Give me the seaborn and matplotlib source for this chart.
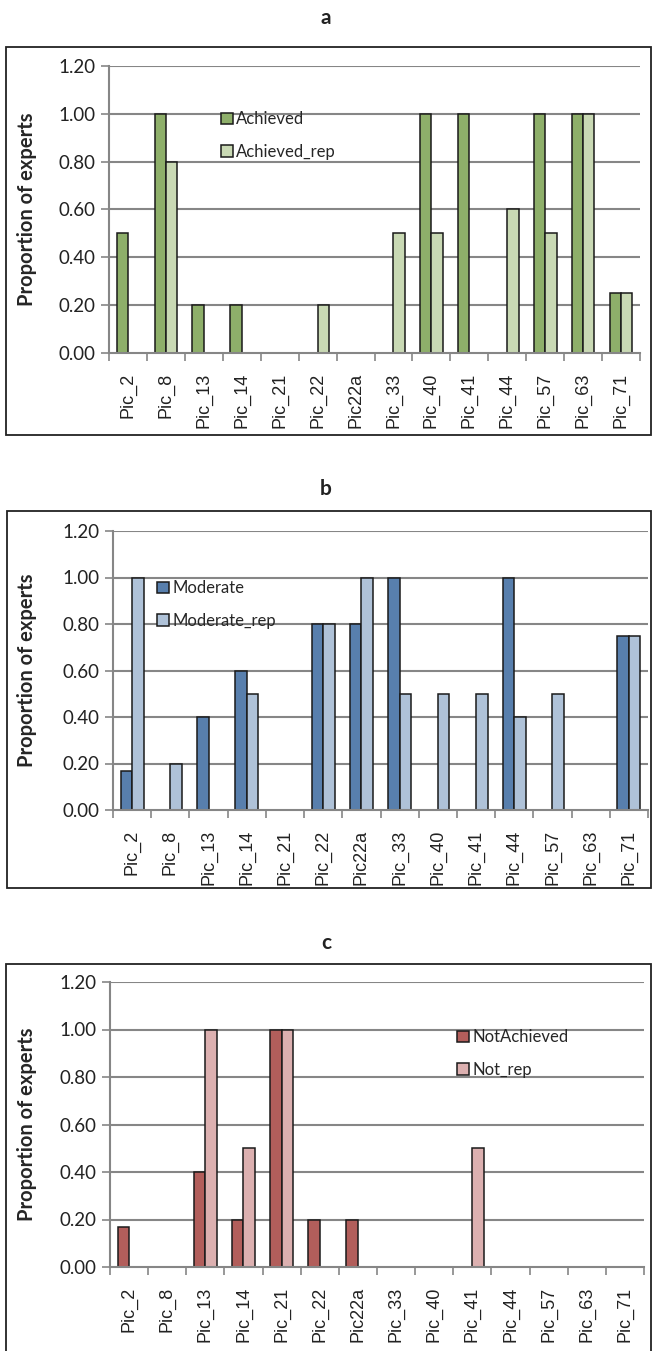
import numpy as np
import pandas as pd
import matplotlib
matplotlib.use('Agg')
import matplotlib.pyplot as plt
import seaborn as sns
from matplotlib.patches import Rectangle

pics = ['Pic_2', 'Pic_8', 'Pic_13', 'Pic_14', 'Pic_21', 'Pic_22', 'Pic22a',
        'Pic_33', 'Pic_40', 'Pic_41', 'Pic_44', 'Pic_57', 'Pic_63', 'Pic_71']

achieved = [0.5, 1.0, 0.2, 0.2, 0, 0, 0, 0, 1.0, 1.0, 0, 1.0, 1.0, 0.25]
achieved_rep = [0, 0.8, 0, 0, 0, 0.2, 0, 0.5, 0.5, 0, 0.6, 0.5, 1.0, 0.25]

moderate = [0.167, 0, 0.4, 0.6, 0, 0.8, 0.8, 1.0, 0, 0, 1.0, 0, 0, 0.75]
moderate_rep = [1.0, 0.2, 0, 0.5, 0, 0.8, 1.0, 0.5, 0.5, 0.5, 0.4, 0.5, 0, 0.75]

not_achieved = [0.167, 0, 0.4, 0.2, 1.0, 0.2, 0.2, 0, 0, 0, 0, 0, 0, 0]
not_rep = [0, 0, 1.0, 0.5, 1.0, 0, 0, 0, 0, 0.5, 0, 0, 0, 0]

panels = [
    ('a', 'Achieved', achieved, 'Achieved_rep', achieved_rep, ['#8fba5e', '#cadfae']),
    ('b', 'Moderate', moderate, 'Moderate_rep', moderate_rep, ['#4a7ebb', '#a8c1df']),
    ('c', 'NotAchieved', not_achieved, 'Not_rep', not_rep, ['#c0504d', '#e3a9a9']),
]

W, H = 653, 1351
sns.set_style('white')
plt.rcParams['font.family'] = ['Lato', 'DejaVu Sans']

fig = plt.figure(figsize=(W / 100, H / 100), dpi=100)

# axes rectangles in pixel coords: left, right, top, bottom
ax_px = [(109, 640, 66, 353), (113, 648, 531, 810), (110, 644, 982, 1267)]
box_px = [(6, 47, 435), (7, 511, 888), (6, 964, 1400)]
title_y = [18, 489, 943]
legend_px = [(213, 103), (149, 572), (449, 1021)]

grey = '#868686'

for i, (letter, n1, v1, n2, v2, cols) in enumerate(panels):
    l, r, t, b = ax_px[i]
    ax = fig.add_axes([l / W, 1 - b / H, (r - l) / W, (b - t) / H])

    df = pd.DataFrame({
        'pic': pics * 2,
        'value': v1 + v2,
        'series': [n1] * len(pics) + [n2] * len(pics),
    })
    sns.barplot(data=df, x='pic', y='value', hue='series', order=pics,
                hue_order=[n1, n2], palette=cols, width=0.6, gap=0,
                edgecolor='#1a1a1a', linewidth=1.1, ax=ax, zorder=3)

    ax.set_ylim(0, 1.2)
    ax.set_xlim(-0.5, len(pics) - 0.5)
    ax.set_yticks(np.arange(0, 1.21, 0.2))
    ax.set_yticklabels([f'{v:.2f}' for v in np.arange(0, 1.21, 0.2)], fontsize=13.5,
                       color='#222222')
    for y in np.arange(0.2, 1.21, 0.2):
        ax.axhline(y, color=grey, lw=1.5, zorder=1)

    ax.set_xticks(range(len(pics)))
    ax.set_xticklabels(pics, rotation=90, fontsize=13, family='Liberation Sans',
                       color='#222222')
    ax.set_xticks(np.arange(-0.5, len(pics), 1), minor=True)
    ax.tick_params(axis='x', which='major', length=0, pad=14)
    ax.tick_params(axis='x', which='minor', length=6, width=1.2, color=grey,
                   direction='out', bottom=True)
    ax.tick_params(axis='y', length=6, width=1.2, color=grey, direction='out',
                   left=True, pad=4)

    for s in ['top', 'right']:
        ax.spines[s].set_visible(False)
    for s in ['left', 'bottom']:
        ax.spines[s].set_color(grey)
        ax.spines[s].set_linewidth(1.5)
        ax.spines[s].set_zorder(4)

    ax.set_xlabel('')
    ax.set_ylabel('Proportion of experts', fontsize=14.5, fontweight='bold')
    ax.yaxis.set_label_coords((37 - l) / (r - l), 0.5)

    lx, ly = legend_px[i]
    ax.legend(loc='upper left', bbox_to_anchor=(lx / W, 1 - ly / H),
              bbox_transform=fig.transFigure, frameon=False, fontsize=12,
              handlelength=0.7, handleheight=0.7, handletextpad=0.2,
              labelspacing=1.0, borderpad=0, title=None)

    bx, bt, bb = box_px[i]
    fig.patches.append(Rectangle((bx / W, 1 - bb / H), (651 - bx) / W, (bb - bt) / H,
                                 transform=fig.transFigure, fill=False,
                                 edgecolor='#222222', lw=1.3))
    fig.text(326 / W, 1 - title_y[i] / H, letter, ha='center', va='center',
             fontsize=15, fontweight='bold', color='#222222')

fig.savefig('out.png', dpi=100)
